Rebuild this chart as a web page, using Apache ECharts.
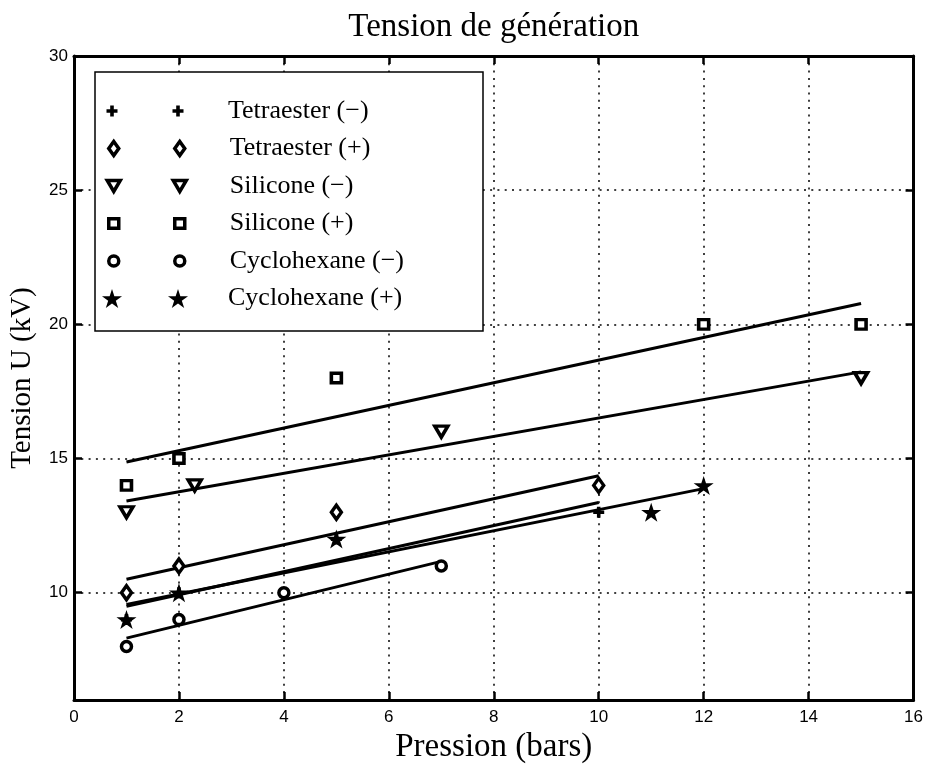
<!DOCTYPE html>
<html><head><meta charset="utf-8">
<script src="https://cdn.jsdelivr.net/npm/echarts@6/dist/echarts.min.js"></script>
<style>html,body{margin:0;padding:0;background:#fff}#c{width:926px;height:769px}</style>
</head><body><div id="c"></div>
<script>
// ---- data ----
const seriesNames = ['Tetraester (\u2212)', 'Tetraester (+)', 'Silicone (\u2212)', 'Silicone (+)', 'Cyclohexane (\u2212)', 'Cyclohexane (+)'];
const tetraMinusX = [1, 2, 5, 10];
const tetraMinusY = [9, 10, 12, 13];
const tetraPlusX = [1, 2, 5, 10];
const tetraPlusY = [10, 11, 13, 14];
const siliconeMinusX = [1, 2.3, 7, 15];
const siliconeMinusY = [13, 14, 16, 18];
const siliconePlusX = [1, 2, 5, 12, 15];
const siliconePlusY = [14, 15, 18, 20, 20];
const cycloMinusX = [1, 2, 4, 7];
const cycloMinusY = [8, 9, 10, 11];
const cycloPlusX = [1, 2, 5, 11, 12];
const cycloPlusY = [9, 10, 12, 13, 14];
// fitted lines (end points)
const fitTetraMinus = [[1, 9.5], [10, 13.36]];
const fitTetraPlus = [[1, 10.5], [10, 14.36]];
const fitSiliconeMinus = [[1, 13.42], [15, 18.23]];
const fitSiliconePlus = [[1, 14.87], [15, 20.78]];
const fitCycloMinus = [[1, 8.31], [7, 11.17]];
const fitCycloPlus = [[1, 9.56], [12, 13.88]];
const yTickValues = [10, 15, 20, 25, 30];
const titleText = 'Tension de g\u00e9n\u00e9ration';
const xName = 'Pression (bars)';
const yName = 'Tension U (kV)';

// ---- marker shapes (style) ----
const starBase = [[50,0],[61.23,34.55],[97.55,34.55],[68.17,55.9],[79.39,90.45],[50,69.1],[20.61,90.45],[31.83,55.9],[2.45,34.55],[38.77,34.55]];
const SHAPES = {
  plus: { w: 11, h: 11, path: o => `M${o+3.7} 0 H${o+7.3} V3.7 H${o+11} V7.3 H${o+7.3} V11 H${o+3.7} V7.3 H${o} V3.7 H${o+3.7} Z`, filled: true },
  diamond: { w: 10, h: 14, path: o => `M${o+5} 0 L${o+10} 7 L${o+5} 14 L${o} 7 Z` },
  tri: { w: 13, h: 11, path: o => `M${o} 0 L${o+13} 0 L${o+6.5} 11 Z` },
  square: { w: 10, h: 9.5, path: o => `M${o} 0 H${o+10} V9.5 H${o} Z` },
  circle: { w: 10, h: 10, path: o => `M${o+5} 0 A5 5 0 1 1 ${o+5} 10 A5 5 0 1 1 ${o+5} 0 Z` },
  star: { w: 20.02, h: 19.04, path: o => starBase.map((p, i) => (i ? 'L' : 'M') + (o + (p[0] - 2.45) * 0.2105).toFixed(2) + ' ' + (p[1] * 0.2105).toFixed(2)).join(' ') + ' Z', filled: true }
};
const shapeOrder = ['plus', 'diamond', 'tri', 'square', 'circle', 'star'];
const xs = [tetraMinusX, tetraPlusX, siliconeMinusX, siliconePlusX, cycloMinusX, cycloPlusX];
const ys = [tetraMinusY, tetraPlusY, siliconeMinusY, siliconePlusY, cycloMinusY, cycloPlusY];
const fits = [fitTetraMinus, fitTetraPlus, fitSiliconeMinus, fitSiliconePlus, fitCycloMinus, fitCycloPlus];

function itemStyleFor(sh) {
  return sh.filled ? { color: '#000', borderWidth: 0, opacity: 1 } : { color: '#fff', borderColor: '#000', borderWidth: 3.5, opacity: 1 };
}

const series = [];
fits.forEach(f => series.push({
  type: 'line', data: f, showSymbol: false, symbol: 'none', z: 2,
  lineStyle: { color: '#000', width: 3 }, silent: true
}));
seriesNames.forEach((n, i) => {
  const sh = SHAPES[shapeOrder[i]];
  series.push({
    type: 'scatter', name: n, z: 3,
    data: xs[i].map((x, j) => [x, ys[i][j]]),
    symbol: 'path://' + sh.path(0), symbolSize: [sh.w, sh.h], symbolKeepAspect: false,
    itemStyle: itemStyleFor(sh)
  });
});

const D = 66, rowY0 = 111, rowStep = 37.5, markerX = 112, textX = 228;
const legends = seriesNames.map((n, i) => {
  const sh = SHAPES[shapeOrder[i]];
  const left = markerX - sh.w / 2;
  const iw = D + sh.w;
  return {
    show: true, selectedMode: false, z: 10, padding: 0,
    left: left, top: rowY0 + i * rowStep - 13,
    itemWidth: iw, itemHeight: sh.h,
    data: [{ name: n, icon: 'path://' + sh.path(0) + ' ' + sh.path(D), itemStyle: itemStyleFor(sh) }],
    itemStyle: itemStyleFor(sh),
    textStyle: { fontFamily: 'Liberation Serif', fontSize: 26, color: '#000', lineHeight: 26,
      padding: [0, 0, 0, textX - (left + iw + 5)] }
  };
});

const axisLineStyle = { show: true, onZero: false, lineStyle: { color: '#000', width: 3 } };
const tickStyle = { inside: true, length: 8, lineStyle: { color: '#000', width: 2.5 } };
const gridStyle = { show: true, lineStyle: { color: '#000', width: 1.5, type: [2, 5.3] } };
const tickFont = { fontFamily: 'Liberation Sans', fontSize: 17, color: '#000' };
const nameFont = { fontFamily: 'Liberation Serif', fontSize: 33, color: '#000' };

const option = {
  backgroundColor: '#fff',
  animation: false,
  grid: { left: 72, right: 11, top: 56, bottom: 58, containLabel: false },
  xAxis: [
    { type: 'value', position: 'bottom', min: 0, max: 16, interval: 2,
      axisLine: axisLineStyle, axisTick: tickStyle, splitLine: gridStyle,
      axisLabel: Object.assign({ margin: 9 }, tickFont),
      name: xName, nameLocation: 'middle', nameGap: 19, nameTextStyle: nameFont },
    { type: 'value', position: 'top', min: 0, max: 16, interval: 2,
      axisLine: axisLineStyle, axisTick: tickStyle, splitLine: { show: false },
      axisLabel: { show: false },
      name: titleText, nameLocation: 'middle', nameGap: 12, nameTextStyle: nameFont }
  ],
  yAxis: [
    { type: 'value', position: 'left', min: 6, max: 30,
      axisLine: axisLineStyle,
      axisTick: Object.assign({ customValues: yTickValues }, tickStyle),
      splitLine: gridStyle,
      axisLabel: Object.assign({ margin: 6, customValues: yTickValues }, tickFont),
      name: yName, nameLocation: 'middle', nameGap: 37,
      nameTextStyle: { fontFamily: 'Liberation Serif', fontSize: 29, color: '#000' } },
    { type: 'value', position: 'right', min: 6, max: 30,
      axisLine: axisLineStyle,
      axisTick: Object.assign({ customValues: yTickValues }, tickStyle),
      splitLine: { show: false }, axisLabel: { show: false } }
  ],
  legend: legends,
  graphic: [{ type: 'rect', z: 5, shape: { x: 95, y: 72, width: 388, height: 259 },
    style: { fill: '#fff', stroke: '#000', lineWidth: 1.5 } }],
  series: series
};
const chart = echarts.init(document.getElementById('c'), null, { renderer: 'canvas' });
chart.setOption(option);
</script></body></html>
